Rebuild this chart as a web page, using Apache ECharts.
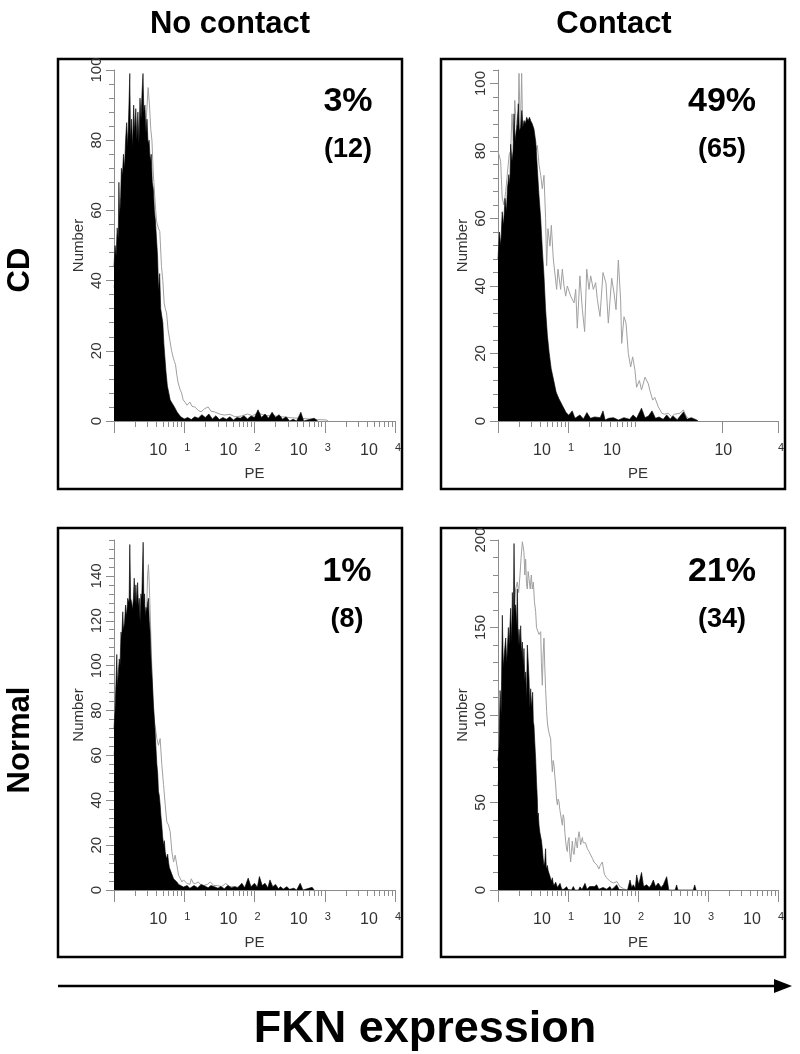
<!DOCTYPE html>
<html>
<head>
<meta charset="utf-8">
<script src="https://cdn.jsdelivr.net/npm/echarts@6/dist/echarts.min.js"></script>
<style>
  html, body { margin: 0; background: #fff; }
  #chart { width: 800px; height: 1054px; }
</style>
</head>
<body>
<div id="chart"></div>
<script>
// x values are log10(PE), so 0..4 spans 10^0..10^4
const BK_CD_NC = [[0,44],[0.015,50],[0.03,47],[0.045,55],[0.06,52],[0.07,68],[0.08,58],[0.095,64],[0.105,72],[0.12,70],[0.135,76],[0.15,72],[0.165,80],[0.18,85],[0.195,78],[0.21,88],[0.225,99],[0.235,80],[0.25,86],[0.265,78],[0.28,90],[0.295,82],[0.31,89],[0.325,80],[0.34,88],[0.355,79],[0.37,92],[0.385,86],[0.4,94],[0.413,99],[0.425,88],[0.44,90],[0.455,82],[0.47,86],[0.485,79],[0.5,80],[0.515,74],[0.53,76],[0.545,68],[0.56,66],[0.575,60],[0.59,57],[0.605,52],[0.62,47],[0.635,37],[0.65,42],[0.665,32],[0.68,30],[0.695,28],[0.71,22],[0.725,18],[0.74,14],[0.76,10],[0.78,8],[0.8,6],[0.83,5],[0.86,4],[0.9,2.5],[0.95,1.2],[1.0,0.6],[1.05,1],[1.1,0.4],[1.15,1.2],[1.2,0.8],[1.25,1.8],[1.3,1],[1.35,2],[1.4,0.6],[1.45,1.5],[1.5,0.4],[1.55,1],[1.6,0.5],[1.65,1.2],[1.7,0.3],[1.75,1],[1.8,0.8],[1.85,1.5],[1.9,0.6],[1.95,1.4],[2.0,1],[2.05,3.2],[2.1,1],[2.15,2],[2.2,0.8],[2.25,2.5],[2.3,1],[2.35,1.8],[2.4,0.5],[2.45,1.2],[2.5,0],[2.55,0.5],[2.6,0],[2.66,2.5],[2.7,0],[2.85,0.8],[2.9,0]];
const GR_CD_NC = [[0,38],[0.05,45],[0.1,55],[0.15,62],[0.2,70],[0.25,74],[0.3,76],[0.35,76],[0.4,78],[0.446,80],[0.465,88],[0.486,95],[0.505,90],[0.524,83],[0.54,80],[0.557,71.5],[0.58,64],[0.605,57],[0.63,55],[0.652,54],[0.676,44],[0.695,40],[0.714,33.6],[0.73,32],[0.748,30.8],[0.77,26],[0.795,23],[0.82,20],[0.843,18],[0.86,17],[0.876,16],[0.895,13],[0.914,10.8],[0.94,9],[0.962,8],[0.985,6],[1.01,5.4],[1.04,4.5],[1.08,5.4],[1.11,4.2],[1.15,4],[1.2,3],[1.24,2.6],[1.29,3.5],[1.34,4],[1.38,2.8],[1.43,2.6],[1.5,2],[1.57,1.7],[1.65,1.9],[1.72,1.2],[1.81,1.4],[1.9,2],[1.97,1.5],[2.05,2.3],[2.15,1.6],[2.29,1.4],[2.4,1.2],[2.52,0.9],[2.64,0.8],[2.76,0.6],[2.9,0.4],[3.02,0.3],[3.05,0]];

const BK_CD_C = [[0,48],[0.02,56],[0.04,52],[0.06,62],[0.08,58],[0.1,66],[0.12,62],[0.135,69],[0.155,73],[0.17,70],[0.181,82],[0.2,77],[0.215,80],[0.229,91],[0.245,83],[0.26,86],[0.276,88],[0.29,94],[0.305,86],[0.324,87],[0.34,92],[0.355,87],[0.371,89],[0.39,88],[0.41,90],[0.43,89],[0.45,90],[0.467,89],[0.49,88],[0.514,86.5],[0.54,82.6],[0.562,74.8],[0.585,67],[0.61,60],[0.633,51],[0.657,43],[0.68,33],[0.705,25.5],[0.73,20.4],[0.76,15.5],[0.8,11.6],[0.83,8.6],[0.87,6.6],[0.92,4.6],[0.97,2.6],[1.01,1.7],[1.06,3],[1.1,0.8],[1.17,1.8],[1.22,0.6],[1.27,2.5],[1.32,0.8],[1.38,1.2],[1.46,1],[1.5,3],[1.53,0.3],[1.58,0.8],[1.65,1],[1.72,0.3],[1.8,1],[1.88,0.5],[1.93,1.8],[1.98,0.8],[2.05,3.8],[2.1,1],[2.15,1.5],[2.2,3],[2.25,0.8],[2.3,1.2],[2.36,0.5],[2.41,1.8],[2.46,0.6],[2.5,1.5],[2.56,0.4],[2.65,2.7],[2.7,0.5],[2.76,1],[2.83,0.4],[2.86,0]];
const GR_CD_C = [[0,80],[0.038,77],[0.06,66],[0.086,64],[0.11,68],[0.133,68],[0.16,79],[0.181,80],[0.2,91],[0.22,83],[0.24,95],[0.262,87],[0.29,92],[0.3,103],[0.32,85],[0.338,103],[0.355,83],[0.38,89],[0.4,88],[0.43,86],[0.467,83],[0.49,82],[0.514,81],[0.54,80],[0.562,81.7],[0.586,76],[0.61,72.8],[0.633,68.8],[0.657,72.8],[0.68,60],[0.695,46],[0.714,57],[0.743,51.8],[0.762,58],[0.79,48],[0.838,39],[0.857,45],[0.895,39],[0.919,45],[0.943,40],[0.967,37],[0.99,40],[1.038,37],[1.086,35],[1.11,39],[1.133,27.5],[1.17,43],[1.205,33],[1.238,26.5],[1.267,45],[1.3,39],[1.324,43],[1.362,39],[1.395,41],[1.419,36],[1.457,31],[1.5,44],[1.543,40.8],[1.576,29],[1.624,42.3],[1.657,38],[1.686,33],[1.719,47.7],[1.752,35.8],[1.767,23],[1.8,30.9],[1.829,29],[1.862,20],[1.895,16],[1.924,19],[1.957,15],[1.98,10],[2.02,12],[2.05,9.2],[2.1,13],[2.148,11],[2.17,9],[2.21,6.2],[2.24,7],[2.29,4.2],[2.34,2.3],[2.38,2],[2.43,2.3],[2.48,1.3],[2.52,2],[2.6,2.3],[2.648,3.3],[2.686,1.5],[2.74,0.4],[2.78,0]];

const BK_N_NC = [[0,72],[0.015,80],[0.03,94],[0.04,105],[0.05,90],[0.062,97],[0.075,103],[0.086,100],[0.1,115],[0.11,112],[0.125,124],[0.135,116],[0.15,119],[0.165,127],[0.18,122],[0.195,130],[0.215,128],[0.225,154],[0.237,130],[0.252,128],[0.265,125],[0.276,130],[0.288,139],[0.3,128],[0.312,136],[0.324,127],[0.336,137],[0.348,126],[0.36,130],[0.371,119.5],[0.383,132],[0.395,130],[0.415,155],[0.425,128],[0.435,132],[0.443,122],[0.455,126],[0.467,124],[0.478,128],[0.49,130],[0.502,120],[0.514,115],[0.526,104],[0.538,97],[0.55,90],[0.562,82],[0.574,77],[0.586,70],[0.598,63],[0.61,56],[0.622,52],[0.633,44],[0.645,42],[0.657,38],[0.668,33],[0.68,29],[0.692,24],[0.705,20],[0.717,22],[0.729,17],[0.741,15],[0.752,14],[0.764,16],[0.776,12.5],[0.788,10],[0.8,9.6],[0.824,7],[0.848,5],[0.87,4.5],[0.895,3.6],[0.92,2.5],[0.943,2],[0.99,1.3],[1.04,2],[1.08,0.8],[1.14,2],[1.19,1],[1.24,2.5],[1.29,1.8],[1.34,1],[1.38,2],[1.43,1.5],[1.48,0.8],[1.52,1.6],[1.57,0.6],[1.62,2],[1.67,1],[1.72,1.5],[1.76,1],[1.82,3],[1.86,1],[1.91,5.3],[1.95,1.5],[2.0,3],[2.04,1.2],[2.07,6],[2.11,2],[2.15,3],[2.19,1],[2.22,4.5],[2.26,1.5],[2.3,2.5],[2.34,0.6],[2.37,1.5],[2.41,0.4],[2.46,1.5],[2.5,0.3],[2.56,0.8],[2.6,0],[2.65,3],[2.69,0],[2.82,1.2],[2.85,0]];
const GR_N_NC = [[0,60],[0.05,80],[0.1,95],[0.15,105],[0.2,110],[0.25,112],[0.3,114],[0.35,114],[0.4,114],[0.44,113],[0.465,125],[0.478,140],[0.49,145],[0.5,138],[0.514,125],[0.526,112],[0.538,100],[0.55,88],[0.562,76],[0.586,73],[0.61,67.5],[0.633,64.5],[0.657,67.5],[0.68,56],[0.705,47],[0.729,38],[0.752,30.3],[0.776,29],[0.8,26],[0.824,17],[0.848,12.5],[0.871,15.5],[0.895,11],[0.919,6.6],[0.945,5],[0.967,3.6],[0.99,4.5],[1.01,5],[1.035,3],[1.06,3.6],[1.08,2.5],[1.1,5],[1.13,3],[1.16,2.9],[1.2,3.6],[1.24,2.2],[1.28,2],[1.33,2.5],[1.37,3.6],[1.42,2],[1.47,2],[1.53,1.5],[1.59,2.9],[1.65,1.5],[1.75,1.3],[1.85,1],[1.95,0.8],[2.1,0.5],[2.3,0.3],[2.5,0]];

const BK_N_C = [[0,74],[0.015,82],[0.03,114],[0.045,100],[0.062,157],[0.076,127],[0.09,135],[0.11,144],[0.125,130],[0.148,150],[0.16,140],[0.181,161],[0.195,141],[0.205,170],[0.218,150],[0.229,198],[0.24,160],[0.252,163],[0.265,150],[0.276,172],[0.288,140],[0.3,149],[0.314,140],[0.324,151],[0.336,135],[0.348,141.7],[0.36,128],[0.371,138],[0.383,120],[0.395,124.6],[0.407,108],[0.419,140],[0.431,131],[0.443,121],[0.455,104],[0.467,115],[0.48,104],[0.495,113],[0.505,96],[0.514,94],[0.526,84],[0.538,75],[0.55,62],[0.562,52],[0.568,42],[0.575,44],[0.586,37],[0.598,33],[0.61,33],[0.622,28],[0.633,23.6],[0.645,18],[0.657,14],[0.668,16],[0.68,23.6],[0.69,12],[0.705,14],[0.717,11],[0.729,10],[0.741,8],[0.752,6.4],[0.764,5],[0.776,7],[0.788,4],[0.8,2.6],[0.812,3],[0.824,4.5],[0.838,3.8],[0.85,1.5],[0.871,0.8],[0.886,3.8],[0.91,0.5],[0.94,0.4],[0.98,1.9],[1.0,0.3],[1.05,0],[1.076,2],[1.1,0],[1.15,0],[1.171,1.8],[1.2,0.3],[1.243,3.8],[1.27,0.4],[1.31,2],[1.338,1],[1.38,2],[1.41,3],[1.44,0.4],[1.5,1.5],[1.552,0.5],[1.6,2],[1.624,0.3],[1.66,1.5],[1.695,3],[1.73,0.3],[1.85,0],[1.886,5.7],[1.91,1.5],[1.933,3],[1.96,1],[1.981,8.6],[2.01,3],[2.05,10],[2.08,2],[2.124,3],[2.16,1.5],[2.19,3],[2.219,5.7],[2.25,2],[2.29,4],[2.33,1.5],[2.362,3],[2.39,2],[2.41,7.6],[2.44,0],[2.53,0],[2.552,2.9],[2.57,0],[2.79,0],[2.81,2.9],[2.83,0]];
const GR_N_C = [[0,60],[0.05,80],[0.1,110],[0.15,125],[0.2,140],[0.229,160],[0.252,172],[0.276,176],[0.295,170],[0.314,180],[0.33,190],[0.348,199],[0.36,196],[0.371,193],[0.383,180],[0.395,189],[0.407,175],[0.419,172],[0.431,182],[0.443,178],[0.46,172],[0.476,180],[0.49,172],[0.505,176],[0.52,165],[0.538,159],[0.55,150],[0.562,151],[0.586,146],[0.61,147.6],[0.62,130],[0.633,117],[0.645,135],[0.657,144],[0.668,128],[0.68,115],[0.695,102],[0.705,96],[0.717,92],[0.729,90],[0.74,88],[0.752,86.7],[0.764,75],[0.776,67.6],[0.788,74],[0.8,71.4],[0.812,65],[0.824,60],[0.836,52],[0.848,48.6],[0.86,52],[0.871,50.5],[0.883,46],[0.895,45],[0.907,40],[0.919,37],[0.931,43],[0.943,41],[0.955,33],[0.967,27.6],[0.978,24],[0.99,22],[1.002,28],[1.014,30],[1.026,21],[1.038,16],[1.05,22],[1.062,28],[1.074,22],[1.086,20.3],[1.098,25],[1.11,29.8],[1.122,26],[1.133,24],[1.145,30],[1.157,33.3],[1.17,30],[1.18,25.8],[1.192,28],[1.205,30],[1.217,27],[1.229,26],[1.25,27],[1.276,23.6],[1.3,22],[1.324,20],[1.35,18],[1.371,16],[1.395,17],[1.419,14],[1.44,12],[1.46,14],[1.49,16],[1.52,9],[1.55,7],[1.6,5],[1.65,4],[1.7,4.8],[1.74,2],[1.79,0.8],[1.84,0]];

// y tick labels per panel
const Y_LABELS_CD_NC = [0, 20, 40, 60, 80, 100];
const Y_LABELS_CD_C = [0, 20, 40, 60, 80, 100];
const Y_LABELS_N_NC = [0, 20, 40, 60, 80, 100, 120, 140];
const Y_LABELS_N_C = [0, 50, 100, 150, 200];

// x tick labels: the "10" bases sit left of their decade tick, exponents just right of it
const X_BASES_STD = [1, 2, 3, 4];
const X_EXPS_STD = [[1, "1"], [2, "2"], [3, "3"], [4, "4"]];
const X_BASES_CD_C = [1, 2, 3.59];
const X_EXPS_CD_C = [[1, "1"], [4, "4"]];

const PCT = ["3%", "49%", "1%", "21%"];
const COUNTS = ["(12)", "(65)", "(8)", "(34)"];

const FONT = "'Liberation Sans', Arial, Helvetica, sans-serif";
const BASE_SHIFT = 26 / 70; // "10" centre sits ~26px left of the decade tick

const panels = [
  { left: 114, top: 70, width: 281, height: 351, box: [58, 59, 344, 430], yMax: 100, minorStep: 4,
    yLabels: Y_LABELS_CD_NC, bases: X_BASES_STD, exps: X_EXPS_STD, majors: [0, 1, 2, 3, 4], minorDecades: [0, 1, 2, 3],
    black: BK_CD_NC, gray: GR_CD_NC, textX: 348, pctY: 102, cntY: 150 },
  { left: 498, top: 70, width: 280, height: 351, box: [441, 59, 344, 430], yMax: 104, minorStep: 4,
    yLabels: Y_LABELS_CD_C, bases: X_BASES_CD_C, exps: X_EXPS_CD_C, majors: [0, 1, 3.21, 4], minorDecades: [0, 1],
    black: BK_CD_C, gray: GR_CD_C, textX: 722, pctY: 102, cntY: 150 },
  { left: 114, top: 540, width: 281, height: 350, box: [58, 528, 344, 429], yMax: 156, minorStep: 4,
    yLabels: Y_LABELS_N_NC, bases: X_BASES_STD, exps: X_EXPS_STD, majors: [0, 1, 2, 3, 4], minorDecades: [0, 1, 2, 3],
    black: BK_N_NC, gray: GR_N_NC, textX: 347, pctY: 572, cntY: 620 },
  { left: 498, top: 540, width: 280, height: 350, box: [441, 528, 344, 429], yMax: 200, minorStep: 10,
    yLabels: Y_LABELS_N_C, bases: X_BASES_STD, exps: X_EXPS_STD, majors: [0, 1, 2, 3, 4], minorDecades: [0, 1, 2, 3],
    black: BK_N_C, gray: GR_N_C, textX: 722, pctY: 572, cntY: 620 },
];

const AXIS_COLOR = "#8c8c8c";
const LABEL_COLOR = "#333";

function minorTicks(decades) {
  const out = [];
  decades.forEach(function (d) {
    for (let k = 2; k <= 9; k++) out.push(d + Math.log10(k));
  });
  return out;
}

function yMinor(max, step) {
  const out = [];
  for (let v = 0; v <= max + 1e-6; v += step) out.push(v);
  return out;
}

const chart = echarts.init(document.getElementById("chart"));

const grid = [], xAxis = [], yAxis = [], series = [], graphic = [];

panels.forEach(function (p, i) {
  grid.push({ left: p.left, top: p.top, width: p.width, height: p.height });

  const expMap = {};
  p.exps.forEach(function (e) { expMap[e[0]] = e[1]; });

  // major ticks + "10" bases
  xAxis.push({
    type: "value", gridIndex: i, min: 0, max: 4, position: "bottom",
    axisLine: { show: true, lineStyle: { color: AXIS_COLOR, width: 1 } },
    axisTick: { show: true, customValues: p.majors, length: 12, lineStyle: { color: AXIS_COLOR } },
    axisLabel: {
      show: true,
      customValues: p.bases.map(function (b) { return b - BASE_SHIFT; }),
      showMaxLabel: true, showMinLabel: true,
      margin: 22, fontSize: 16, color: LABEL_COLOR, fontFamily: FONT,
      formatter: function () { return "10"; },
    },
    splitLine: { show: false },
    name: "PE", nameLocation: "middle", nameGap: 45,
    nameTextStyle: { fontSize: 15, color: LABEL_COLOR, fontFamily: FONT },
  });
  // minor ticks + exponents
  xAxis.push({
    type: "value", gridIndex: i, min: 0, max: 4, position: "bottom",
    axisLine: { show: false },
    axisTick: { show: true, customValues: minorTicks(p.minorDecades), length: 6, lineStyle: { color: AXIS_COLOR } },
    axisLabel: {
      show: true,
      customValues: p.exps.map(function (e) { return e[0]; }),
      showMaxLabel: true, showMinLabel: true,
      margin: 21, fontSize: 11, color: LABEL_COLOR, fontFamily: FONT, align: "left",
      formatter: function (v) { return expMap[v] || ""; },
    },
    splitLine: { show: false },
  });

  yAxis.push({
    type: "value", gridIndex: i, min: 0, max: p.yMax, position: "left",
    axisLine: { show: true, lineStyle: { color: AXIS_COLOR, width: 1 } },
    axisTick: { show: true, customValues: p.yLabels, length: 8, lineStyle: { color: AXIS_COLOR } },
    axisLabel: {
      show: true, customValues: p.yLabels, rotate: 90, margin: 10,
      fontSize: 15, color: LABEL_COLOR, fontFamily: FONT,
    },
    splitLine: { show: false },
    name: "Number", nameLocation: "middle", nameRotate: 90, nameGap: 28,
    nameTextStyle: { fontSize: 15, color: LABEL_COLOR, fontFamily: FONT },
  });
  yAxis.push({
    type: "value", gridIndex: i, min: 0, max: p.yMax, position: "left",
    axisLine: { show: false },
    axisTick: { show: true, customValues: yMinor(p.yMax, p.minorStep), length: 5, lineStyle: { color: AXIS_COLOR } },
    axisLabel: { show: false },
    splitLine: { show: false },
  });

  series.push({
    type: "line", xAxisIndex: 2 * i, yAxisIndex: 2 * i, data: p.gray, z: 2,
    showSymbol: false, symbol: "none", animation: false, silent: true,
    lineStyle: { color: "#a0a0a0", width: 1 },
  });
  series.push({
    type: "line", xAxisIndex: 2 * i, yAxisIndex: 2 * i, data: p.black, z: 3,
    showSymbol: false, symbol: "none", animation: false, silent: true,
    lineStyle: { color: "#000", width: 0.6 },
    areaStyle: { color: "#000", opacity: 1 },
  });

  graphic.push({
    type: "rect", shape: { x: p.box[0], y: p.box[1], width: p.box[2], height: p.box[3] },
    style: { fill: "none", stroke: "#000", lineWidth: 2.5 }, silent: true,
  });
  graphic.push({
    type: "text", x: p.textX, y: p.pctY,
    style: { text: PCT[i], font: "bold 34px " + FONT, fill: "#000", textAlign: "center", textVerticalAlign: "middle" },
  });
  graphic.push({
    type: "text", x: p.textX, y: p.cntY,
    style: { text: COUNTS[i], font: "bold 27px " + FONT, fill: "#000", textAlign: "center", textVerticalAlign: "middle" },
  });
});

// column / row headers, arrow and axis caption
graphic.push(
  { type: "text", x: 230, y: 24, style: { text: "No contact", font: "bold 31px " + FONT, fill: "#000", textAlign: "center", textVerticalAlign: "middle" } },
  { type: "text", x: 614, y: 24, style: { text: "Contact", font: "bold 31px " + FONT, fill: "#000", textAlign: "center", textVerticalAlign: "middle" } },
  { type: "text", x: 20, y: 270, rotation: Math.PI / 2, style: { text: "CD", font: "bold 31px " + FONT, fill: "#000", textAlign: "center", textVerticalAlign: "middle" } },
  { type: "text", x: 20, y: 740, rotation: Math.PI / 2, style: { text: "Normal", font: "bold 31px " + FONT, fill: "#000", textAlign: "center", textVerticalAlign: "middle" } },
  { type: "line", shape: { x1: 58, y1: 986, x2: 778, y2: 986 }, style: { stroke: "#000", lineWidth: 2.5 } },
  { type: "polygon", shape: { points: [[792, 986], [774, 979], [774, 993]] }, style: { fill: "#000" } },
  { type: "text", x: 425, y: 1030, style: { text: "FKN expression", font: "bold 45px " + FONT, fill: "#000", textAlign: "center", textVerticalAlign: "middle" } }
);

chart.setOption({
  animation: false,
  backgroundColor: "#fff",
  grid: grid,
  xAxis: xAxis,
  yAxis: yAxis,
  series: series,
  graphic: graphic,
});

window.addEventListener("resize", function () { chart.resize(); });
</script>
</body>
</html>
